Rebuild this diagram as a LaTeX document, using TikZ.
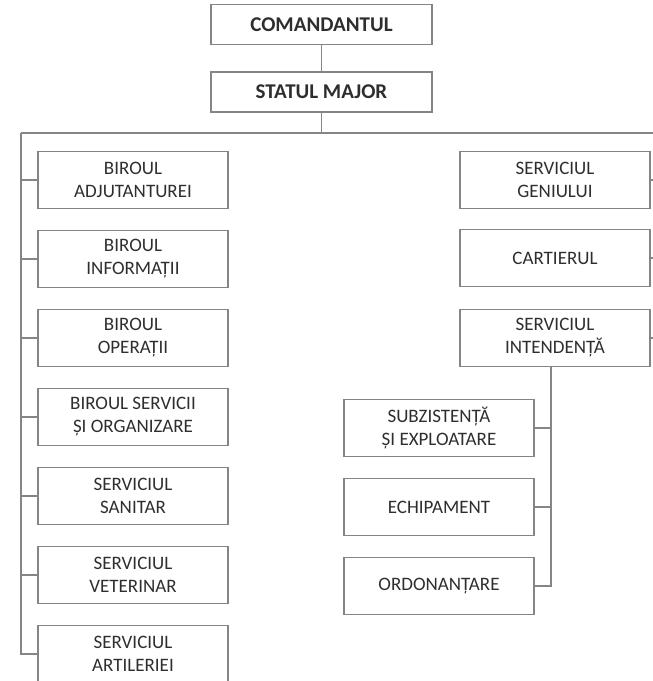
\documentclass[tikz,border=0pt]{standalone}
\usepackage{fontspec}
\setmainfont{Carlito}
\definecolor{linegray}{HTML}{858585}
\definecolor{textgray}{HTML}{2E2E2E}

\tikzset{
    unit/.style={draw=linegray, line width=1.3pt, text=textgray, minimum width=190pt, minimum height=57pt, inner sep=0pt, align=center, font=\fontsize{19}{23}\selectfont},
    head/.style={unit, minimum width=221pt, minimum height=40pt, font=\bfseries\fontsize{21}{25}\selectfont},
    link/.style={draw=linegray, line width=1.3pt},
}

\begin{document}
\begin{tikzpicture}[x=1pt, y=-1pt]
    \useasboundingbox (0, 0) rectangle (653, 681);

    \node[head] (0) at (321.5, 24.5) {COMANDANTUL};
    \node[head] (1) at (321.5, 92) {STATUL MAJOR};

    \node[unit] (2) at (133, 180) {BIROUL\\ADJUTANTUREI};
    \node[unit] (3) at (133, 259) {BIROUL\\INFORMAȚII};
    \node[unit] (4) at (133, 338) {BIROUL\\OPERAȚII};
    \node[unit] (5) at (133, 417) {BIROUL SERVICII\\ȘI ORGANIZARE};
    \node[unit] (6) at (133, 496) {SERVICIUL\\SANITAR};
    \node[unit] (7) at (133, 575) {SERVICIUL\\VETERINAR};
    \node[unit] (8) at (133, 654) {SERVICIUL\\ARTILERIEI};

    \node[unit] (9) at (555, 180) {SERVICIUL\\GENIULUI};
    \node[unit] (10) at (555, 258) {CARTIERUL};
    \node[unit] (11) at (555, 338) {SERVICIUL\\INTENDENȚĂ};

    \node[unit] (12) at (439, 428) {SUBZISTENȚĂ\\ȘI EXPLOATARE};
    \node[unit] (13) at (439, 507) {ECHIPAMENT};
    \node[unit] (14) at (439, 586) {ORDONANȚARE};

    \draw[link] (0) -- (1);

    % bus under statul major
    \coordinate (l0) at (321.5, 133);
    \coordinate (bl) at (21, 133);
    \coordinate (br) at (653, 133);
    \draw[link] (1) -- (l0);
    \draw[link] (bl) -- (br);

    % left column
    \draw[link] (bl) |- (2.west);
    \draw[link] (bl) |- (3.west);
    \draw[link] (bl) |- (4.west);
    \draw[link] (bl) |- (5.west);
    \draw[link] (bl) |- (6.west);
    \draw[link] (bl) |- (7.west);
    \draw[link] (bl) |- (8.west);

    % right column, cut at the edge
    \draw[link] (9.east) -- (9.east -| br);
    \draw[link] (10.east) -- (10.east -| br);
    \draw[link] (11.east) -- (11.east -| br);

    % intendenta
    \coordinate (l1) at (551, 366.5);
    \draw[link] (l1) |- (12.east);
    \draw[link] (l1) |- (13.east);
    \draw[link] (l1) |- (14.east);
\end{tikzpicture}
\end{document}
